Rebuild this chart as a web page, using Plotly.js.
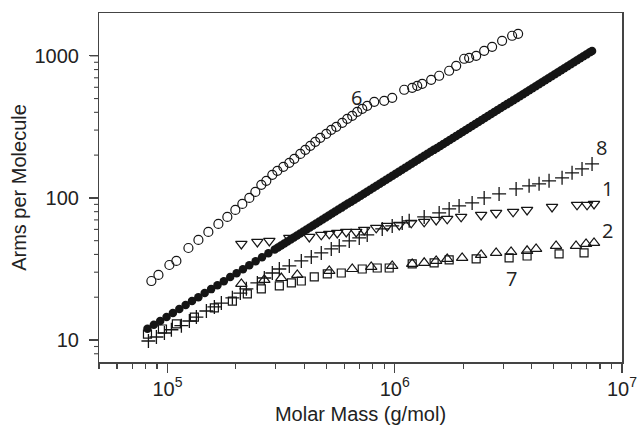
<!DOCTYPE html>
<html>
<head>
<meta charset="utf-8">
<script src="https://cdn.plot.ly/plotly-3.0.1.min.js"></script>
<style>html,body{margin:0;padding:0;background:#fff;}#chart{width:638px;height:428px;}</style>
</head>
<body>
<div id="chart"></div>
<script>
// Sample 6 (open circles)
const mass6 = [85000, 91300, 102000, 109500, 123700, 136900, 151400, 167600, 183500, 199000, 213600, 229300, 243700, 258900, 272400, 289400, 304500, 323600, 343800, 361600, 384300, 404300, 425200, 447200, 470400, 500000, 525900, 553200, 587800, 618200, 650300, 684000, 719700, 756900, 812600, 899000, 975000, 1101000, 1194000, 1256000, 1321000, 1447000, 1569000, 1736000, 1864000, 2021000, 2126000, 2282000, 2475000, 2683000, 2968000, 3285000, 3491000];
const arms6 = [26.0, 28.7, 33.7, 36.0, 44.4, 50.6, 57.6, 65.6, 73.5, 82.3, 90.7, 100, 110.2, 123.5, 131.8, 145.2, 155, 165.3, 176.4, 188.2, 204, 217.8, 232.4, 248, 264.5, 282.3, 301.2, 316.2, 337.4, 360, 377.9, 403.3, 423.5, 444.5, 474.4, 482.2, 506, 576.5, 595.4, 614.9, 635.1, 677.6, 723.3, 784.3, 850.4, 952.6, 968.1, 1000, 1084, 1157, 1275, 1383, 1428];

// Filled circles
const massF = [81700, 87140, 92940, 99130, 105700, 112800, 120300, 128300, 136800, 145900, 155700, 166000, 177100, 188900, 201500, 214900, 229200, 244400, 260700, 278100, 296600, 316400, 337400, 359900, 383900, 409400, 436700, 465800, 496800, 529900, 565200, 602800, 643000, 685800, 731500, 780200, 832200, 887600, 946700, 1009800, 1077000, 1148700, 1225200, 1306800, 1393900, 1486700, 1585700, 1691300, 1804000, 1924100, 2052300, 2189000, 2334800, 2490300, 2656200, 2833100, 3021800, 3223100, 3437800, 3666800, 3911000, 4171500, 4449300, 4745700, 5061800, 5398900, 5758500, 6142100, 6551200, 6987500, 7383000];
const armsF = [12.0, 12.8, 13.6, 14.5, 15.5, 16.5, 17.6, 18.8, 20.0, 21.4, 22.8, 24.3, 25.9, 27.7, 29.5, 31.5, 33.6, 35.8, 38.2, 40.7, 43.4, 46.3, 49.4, 52.7, 56.2, 59.9, 63.9, 68.2, 72.7, 77.6, 82.7, 88.3, 94.1, 100.4, 107.1, 114.2, 121.8, 130.0, 138.6, 147.8, 157.7, 168.2, 179.4, 191.3, 204.1, 217.7, 232.2, 247.6, 264.1, 281.7, 300.5, 320.5, 341.8, 364.6, 388.9, 414.8, 442.4, 471.9, 503.3, 536.9, 572.6, 610.8, 651.4, 694.8, 741.1, 790.5, 843.1, 899.3, 959.2, 1023, 1081];
// Filled circles, denser part of the same series
const massF2 = [306300, 326800, 348500, 371700, 396500, 422800, 451000, 481100, 513100, 547300, 583700, 622600, 664100, 708300, 755500, 805800, 859500, 916700, 977700, 1042900, 1112300, 1186400, 1265400, 1349700, 1439600, 1535500, 1637700, 1746800, 1863200, 1987200, 2119600, 2260800, 2411400, 2572000, 2743300, 2926000, 3120900, 3328800, 3550600, 3787100, 4039300, 4308300, 4595200, 4901300, 5227800, 5576000, 5947400, 6343500, 6766000, 7216700];
const armsF2 = [44.8, 47.8, 51.0, 54.4, 58.0, 61.9, 66.0, 70.4, 75.1, 80.1, 85.4, 91.2, 97.2, 103.7, 110.6, 117.9, 125.8, 134.3, 143.1, 152.6, 162.9, 173.7, 185.3, 197.6, 210.8, 224.8, 239.8, 255.7, 272.8, 290.9, 310.4, 331.0, 353.0, 376.6, 401.7, 428.4, 456.9, 487.4, 519.8, 554.5, 591.4, 630.8, 672.8, 717.6, 765.4, 816.4, 870.8, 928.8, 990.7, 1057];

// Sample 8 (plus)
const mass8 = [82500, 89450, 97000, 104100, 115200, 124900, 134100, 148400, 160900, 172700, 193100, 209300, 222500, 248700, 266900, 289400, 310700, 343800, 388200, 429500, 475200, 525900, 570200, 631000, 698200, 756900, 881300, 975000, 1079000, 1158000, 1348000, 1569000, 1736000, 1920000, 2191000, 2475000, 2879000, 3421000, 3902000, 4317000, 4776000, 5449000, 6029000, 6670000, 7383000];
const arms8 = [9.84, 10.5, 11.2, 11.8, 12.6, 13.6, 14.5, 16.0, 17.1, 18.2, 19.8, 21.4, 22.9, 25.2, 27.3, 29.6, 31.6, 33.2, 36.0, 38.4, 41.0, 43.7, 45.9, 49.8, 52.3, 54.9, 60.5, 63.5, 66.7, 68.9, 73.5, 78.4, 83.6, 87.8, 92.2, 100, 106.7, 115.7, 121.5, 125.5, 131.8, 138.3, 150, 160, 173.5];

// Sample 1 (down triangles)
const mass1 = [211500, 248700, 280800, 343800, 420900, 475200, 515300, 558800, 612000, 677100, 734300, 829200, 926800, 1047000, 1182000, 1348000, 1522000, 1702000, 1960000, 2400000, 2794000, 3318000, 3823000, 4923000, 6341000, 7018000, 7532000];
const arms1 = [47.4, 49.0, 49.8, 52.3, 53.1, 54.9, 55.8, 56.7, 57.6, 57.6, 59.5, 61.5, 63.5, 64.5, 66.7, 67.8, 70.0, 71.2, 73.5, 75.9, 78.4, 79.7, 82.3, 86.4, 89.3, 89.3, 90.7];

// Sample 2 (up triangles)
const mass2 = [211500, 266900, 317000, 372700, 515300, 650300, 788200, 975000, 1194000, 1348000, 1522000, 1702000, 1980000, 2400000, 2794000, 3251000, 3823000, 4188000, 5128000, 6277000, 6947000, 7532000];
const arms2 = [24.8, 26.5, 27.3, 28.7, 30.6, 31.6, 32.7, 33.2, 34.3, 34.9, 36.0, 37.2, 37.8, 39.7, 41.0, 41.7, 42.4, 43.7, 45.9, 45.9, 47.4, 48.2];

// Sample 7 (squares)
const mass7 = [81700, 95100, 109500, 131400, 160900, 193100, 224700, 258900, 310700, 351000, 388200, 442700, 505100, 582000, 719700, 837600, 945800, 1194000, 1491000, 1736000, 2282000, 3186000, 3823000, 5286000, 6808000];
const arms7 = [11.0, 11.95, 12.97, 14.5, 16.8, 18.8, 21.1, 22.9, 24.0, 25.2, 26.0, 27.8, 29.2, 29.6, 31.6, 32.1, 32.1, 34.3, 34.9, 36.6, 37.2, 37.8, 39.0, 40.3, 41.0];

// Series labels
const labelText = ['6', '8', '1', '2', '7'];
const labelMass = [677000, 8085000, 8590000, 8590000, 3251000];
const labelArms = [506, 225, 115.7, 58.6, 27.3];

// Arms-axis tick values (major and minor)
const yMajorVals = [10, 100, 1000];
const yMinorVals = [8, 9, 20, 30, 40, 50, 60, 70, 80, 90, 200, 300, 400, 500, 600, 700, 800, 900];

const W = 638, H = 428;
const M = {l: 99, r: 16, t: 13, b: 66};
const plotW = W - M.l - M.r;
const yRange = [Math.log10(7), Math.log10(2000)];

const ink = '#151515';
function sc(x, y, symbol, size, lw) {
  return {x: x, y: y, type: 'scatter', mode: 'markers', showlegend: false, hoverinfo: 'skip',
    marker: {symbol: symbol, size: size, color: ink, line: {color: ink, width: lw}}};
}
const traces = [
  sc(mass6, arms6, 'circle-open', 9, 1.2),
  sc(massF, armsF, 'circle', 8.5, 0),
  sc(massF2, armsF2, 'circle', 8.5, 0),
  sc(mass8, arms8, 'cross-thin-open', 10, 1.3),
  sc(mass1, arms1, 'triangle-down-open', 10, 1.2),
  sc(mass2, arms2, 'triangle-up-open', 10, 1.2),
  sc(mass7, arms7, 'square-open', 8, 1.2)
];

const annotations = labelText.map((t, i) => ({
  text: t, x: Math.log10(labelMass[i]), y: Math.log10(labelArms[i]), xref: 'x', yref: 'y',
  showarrow: false, font: {family: 'Open Sans, sans-serif', size: 20, color: '#222'}
}));

// Left-axis tick marks, placed from the tick values through the axis range
function yFrac(v) { return (Math.log10(v) - yRange[0]) / (yRange[1] - yRange[0]); }
function tickShape(v, len, w) {
  const f = yFrac(v);
  return {type: 'line', xref: 'paper', yref: 'paper', x0: -len / plotW, x1: 0, y0: f, y1: f,
    line: {color: '#444', width: w}, layer: 'above'};
}
const shapes = yMajorVals.map(v => tickShape(v, 9, 1.3)).concat(yMinorVals.map(v => tickShape(v, 5, 1.1)));

const layout = {
  width: W, height: H,
  margin: M,
  font: {family: 'Arial, sans-serif', color: '#222'},
  xaxis: {
    type: 'log', range: [Math.log10(50000), 7], dtick: 1, exponentformat: 'power', showexponent: 'all',
    showgrid: false, zeroline: false, showline: true, linecolor: '#444', linewidth: 1.5, mirror: true,
    ticks: 'outside', ticklen: 9, tickwidth: 1.3, tickcolor: '#444',
    minor: {ticks: 'outside', ticklen: 5, tickwidth: 1.1, tickcolor: '#444', showgrid: false},
    tickfont: {size: 16, color: '#222'},
    title: {text: 'Molar Mass (g/mol)', font: {size: 20, color: '#222'}, standoff: 8}
  },
  yaxis: {
    type: 'log', range: yRange, dtick: 1,
    ticks: 'outside', ticklen: 9, tickcolor: '#444', tickwidth: 1.3,
    showline: true, mirror: true, linecolor: '#444', linewidth: 1.5,
    showgrid: false, zeroline: false,
    ticksuffix: '\u00a0',
    tickfont: {size: 20, color: '#222'},
    title: {text: 'Arms per Molecule', font: {size: 20, color: '#222'}, standoff: 2}
  },
  shapes: shapes,
  annotations: annotations
};

Plotly.newPlot('chart', traces, layout, {staticPlot: true, displayModeBar: false});
</script>
</body>
</html>
